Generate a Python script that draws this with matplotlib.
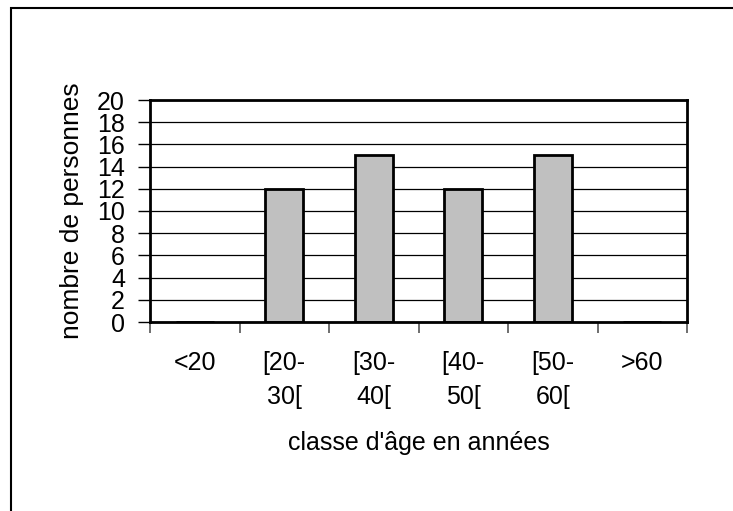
import matplotlib.pyplot as plt
import matplotlib.patches as mpatches
import numpy as np

plt.rcParams['font.family'] = ['Liberation Sans', 'DejaVu Sans']

classes = ['<20', '[20-\n30[', '[30-\n40[', '[40-\n50[', '[50-\n60[', '>60']
counts = [0, 12, 15, 12, 15, 0]
y_ticks = list(range(0, 21, 2))

W, H = 733, 511
fig = plt.figure(figsize=(W / 100, H / 100), dpi=100)
ax = fig.add_axes([150 / W, 1 - 322 / H, 537 / W, 222 / H])

x = np.arange(len(classes))
ax.bar(x, counts, width=0.42, color='#c0c0c0', edgecolor='black', linewidth=2, zorder=3)

ax.set_xlim(-0.5, len(classes) - 0.5)
ax.set_ylim(0, 20)
ax.set_yticks(y_ticks)
ax.set_yticklabels([str(v) for v in y_ticks], fontsize=18)
ax.yaxis.grid(True, color='black', linewidth=0.9, zorder=0)
ax.tick_params(axis='y', direction='out', length=9, width=1, pad=9)

# category labels centred, ticks on category boundaries
ax.set_xticks(np.arange(-0.5, len(classes), 1.0))
ax.set_xticklabels([])
ax.tick_params(axis='x', direction='out', length=8, width=1.2, colors='#555555')
for xi, lab in zip(x, classes):
    ax.text(xi, -2.6, lab, ha='center', va='top', fontsize=18,
            linespacing=1.55, transform=ax.transData, clip_on=False)

for s in ax.spines.values():
    s.set_linewidth(2)
    s.set_color('black')
    s.set_zorder(4)

ax.set_ylabel('nombre de personnes', fontsize=19)
ax.yaxis.set_label_coords((84 - 150) / 537, 0.5)
fig.text((150 + 687) / 2 / W, 1 - 443 / H, "classe d'âge en années",
         ha='center', va='center', fontsize=18)

# outer frame, running off the right and bottom edges
frame = mpatches.Rectangle((11 / W, -0.1), 1.0, 1 - 8 / H + 0.1,
                           transform=fig.transFigure, fill=False,
                           edgecolor='black', linewidth=1.5)
fig.patches.append(frame)

fig.savefig('out.png', dpi=100)
